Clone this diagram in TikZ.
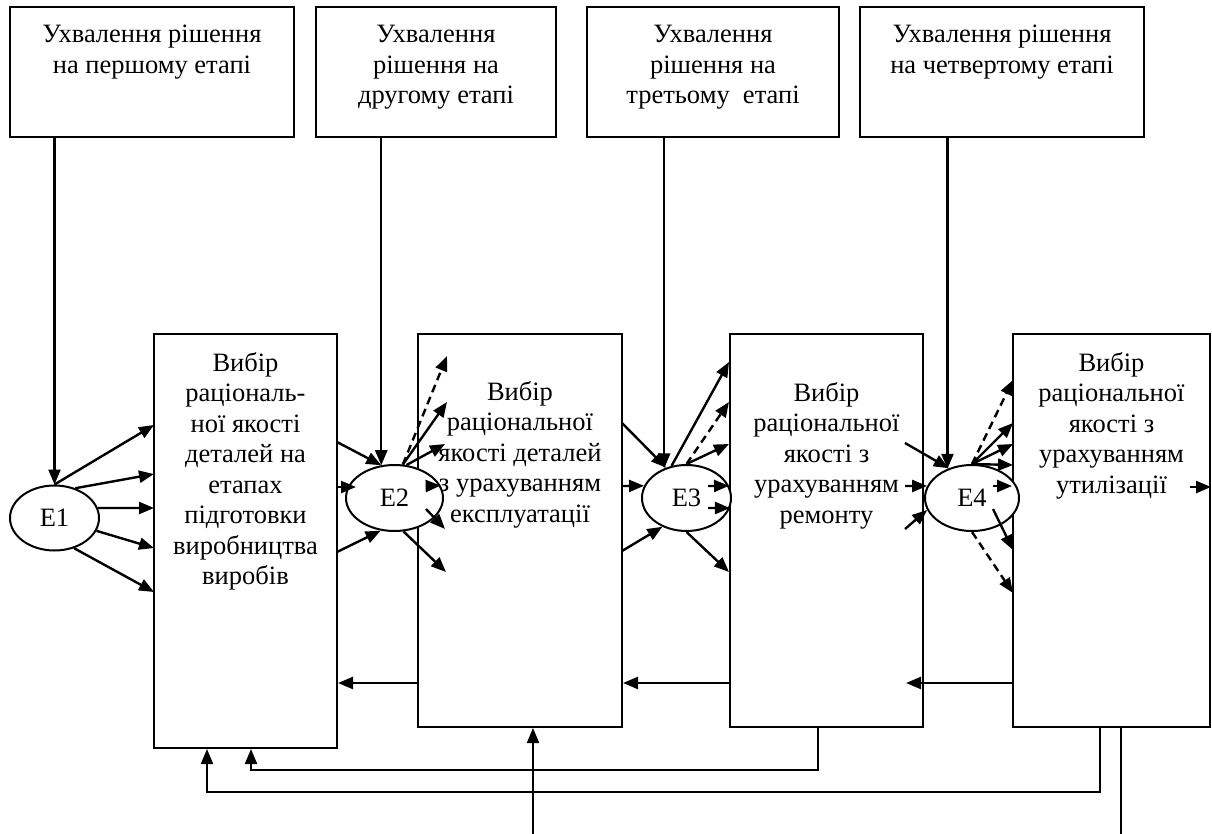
\documentclass[tikz,border=0pt]{standalone}
\usepackage{fontspec}
\setmainfont{Liberation Serif}
\usetikzlibrary{arrows.meta,shapes.geometric}

\newcommand\diagfont{\fontsize{26.5}{30.5}\selectfont}

\tikzset{
  box/.style={draw, line width=2pt, rectangle, inner sep=0pt},
  ev/.style={draw, fill=white, line width=2pt, ellipse, inner sep=0pt, font=\diagfont},
  lbl/.style={anchor=north, align=center, inner sep=0pt, font=\diagfont},
  arr/.style={line width=2.4pt, -{Triangle[length=15pt,width=12pt]}},
  darr/.style={arr, dash pattern=on 8pt off 5pt},
  fb/.style={line width=2pt},
  fbarr/.style={fb, -{Triangle[length=15pt,width=12pt]}},
}

\begin{document}
\begin{tikzpicture}[x=1pt,y=-1pt]
\useasboundingbox (0,0) rectangle (1212,834);

% decision boxes
\node[box, minimum width=284pt, minimum height=130pt] (T1) at (152,72) {};
\node[box, minimum width=240pt, minimum height=130pt] (T2) at (436,72) {};
\node[box, minimum width=252pt, minimum height=130pt] (T3) at (713,72) {};
\node[box, minimum width=284pt, minimum height=130pt] (T4) at (1002,72) {};
\node[lbl] (T1t) at (152,25) {Ухвалення рішення\\на першому етапі};
\node[lbl] (T2t) at (436,25) {Ухвалення\\рішення на\\другому етапі};
\node[lbl] (T3t) at (713,25) {Ухвалення\\рішення на\\третьому\ \ етапі};
\node[lbl] (T4t) at (1002,25) {Ухвалення рішення\\на четвертому етапі};

% stage boxes
\node[box, minimum width=183pt, minimum height=414pt] (B1) at (245.5,541) {};
\node[box, minimum width=204pt, minimum height=393pt] (B2) at (520,530.5) {};
\node[box, minimum width=193pt, minimum height=393pt] (B3) at (826.5,530.5) {};
\node[box, minimum width=197pt, minimum height=393pt] (B4) at (1111.5,530.5) {};
\node[lbl] (B1t) at (245.5,352) {Вибір\\раціональ-\\ної якості\\деталей на\\етапах\\підготовки\\виробництва\\виробів};
\node[lbl] (B2t) at (520,381) {Вибір\\раціональної\\якості деталей\\з урахуванням\\експлуатації};
\node[lbl] (B3t) at (826.5,382) {Вибір\\раціональної\\якості з\\урахуванням\\ремонту};
\node[lbl] (B4t) at (1111.5,352) {Вибір\\раціональної\\якості з\\урахуванням\\утилізації};

% events
\node[ev, minimum width=89pt, minimum height=65pt] (E1) at (54.5,518) {E1};
\node[ev, minimum width=97pt, minimum height=66pt] (E2) at (394.5,498) {E2};
\node[ev, minimum width=89pt, minimum height=66pt] (E3) at (686.5,498) {E3};
\node[ev, minimum width=94pt, minimum height=66pt] (E4) at (972,498) {E4};

% decisions into events
\draw[arr] (T1.south -| E1.north) -- (E1.north);
\draw[arr] (T2.south -| E2.112) -- (E2.112);
\draw[arr] (T3.south -| E3.127) -- (E3.127);
\draw[arr] (T4.south -| E4.130) -- (E4.130);

% E1 fan into stage 1
\coordinate (a11) at (154,425);
\coordinate (a12) at (154,474);
\coordinate (a13) at (154,508);
\coordinate (a14) at (154,548);
\coordinate (a15) at (154,592);
\draw[arr] (E1.north) -- (a11);
\draw[arr] (E1.55) -- (a12);
\draw[arr] (E1.13) -- (a13);
\draw[arr] (E1.-17) -- (a14);
\draw[arr] (E1.-57) -- (a15);

% stage 1 into E2
\coordinate (b11) at (337,442);
\coordinate (b12) at (337,487);
\coordinate (b13) at (337,552);
\coordinate (e2in) at (356,487);
\draw[arr] (b11) -- (E2.112);
\draw[arr] (b12) -- (e2in);
\draw[arr] (b13) -- (E2.-113);

% E2 fan into stage 2
\coordinate (c21) at (447,356);
\coordinate (c22) at (447,402);
\coordinate (c23) at (445,444);
\coordinate (c24) at (426,486);
\coordinate (c25) at (426,509);
\coordinate (c25e) at (445,529);
\coordinate (c26) at (446,572);
\draw[darr] (E2.76) -- (c21);
\draw[arr] (E2.76) -- (c22);
\draw[arr] (E2.70) -- (c23);
\draw[arr] (c24) -- (E2.15);
\draw[arr] (c25) -- (c25e);
\draw[arr] (E2.-75) -- (c26);

% stage 2 into E3
\coordinate (b21) at (622,423);
\coordinate (b22) at (622,486);
\coordinate (b23) at (622,551);
\draw[arr] (b21) -- (E3.124);
\draw[arr] (b22) -- (E3.164);
\draw[arr] (b23) -- (E3.-130);

% E3 fan into stage 3
\coordinate (c31) at (729,362);
\coordinate (c32) at (729,402);
\coordinate (c33) at (729,444);
\coordinate (c34) at (708,486);
\coordinate (c35) at (708,508);
\coordinate (c36) at (729,572);
\draw[arr] (E3.115) -- (c31);
\draw[darr] (E3.north) -- (c32);
\draw[arr] (E3.north) -- (c33);
\draw[arr] (c34) -- (E3.16);
\draw[arr] (c35) -- (E3.-13);
\draw[arr] (E3.south) -- (c36);

% stage 3 into E4
\coordinate (b31) at (905,443);
\coordinate (b32) at (905,486);
\coordinate (b33) at (905,529);
\draw[arr] (b31) -- (E4.128);
\draw[arr] (b32) -- (E4.165);
\draw[arr] (b33) -- (E4.-165);

% E4 fan into stage 4
\coordinate (c41) at (1013,380);
\coordinate (c42) at (1013,423);
\coordinate (c43) at (1013,444);
\coordinate (c44) at (1013,465);
\coordinate (c45) at (993,486);
\coordinate (c46) at (993,509);
\coordinate (c46e) at (1013,550);
\coordinate (c47) at (1013,593);
\draw[darr] (E4.north) -- (c41);
\draw[arr] (E4.north) -- (c42);
\draw[arr] (E4.north) -- (c43);
\draw[arr] (E4.north) -- (c44);
\draw[arr] (c45) -- (B4.west |- c45);
\draw[arr] (c46) -- (c46e);
\draw[darr] (E4.south) -- (c47);

% stage 4 output
\coordinate (d41) at (1190,487);
\draw[arr] (d41) -- (B4.east |- d41);

% feedback between stages
\coordinate (fy) at (0,683);
\coordinate (fb3) at (906,683);
\draw[arr] (B2.west |- fy) -- (B1.east |- fy);
\draw[arr] (B3.west |- fy) -- (B2.east |- fy);
\draw[arr] (B4.west |- fy) -- (fb3);

% return loops to stage 1
\coordinate (g1) at (818,770);
\coordinate (g1e) at (251,770);
\coordinate (g2) at (1100,792);
\coordinate (g2e) at (207,792);
\draw[fbarr] (B3.south -| g1) -- (g1) -- (g1e) -- (B1.south -| g1e);
\draw[fbarr] (B4.south -| g2) -- (g2) -- (g2e) -- (B1.south -| g2e);

% external input and output
\coordinate (in1) at (533,834);
\coordinate (out1) at (1121,834);
\draw[fbarr] (in1) -- (B2.south -| in1);
\draw[fb] (B4.south -| out1) -- (out1);
\end{tikzpicture}
\end{document}
